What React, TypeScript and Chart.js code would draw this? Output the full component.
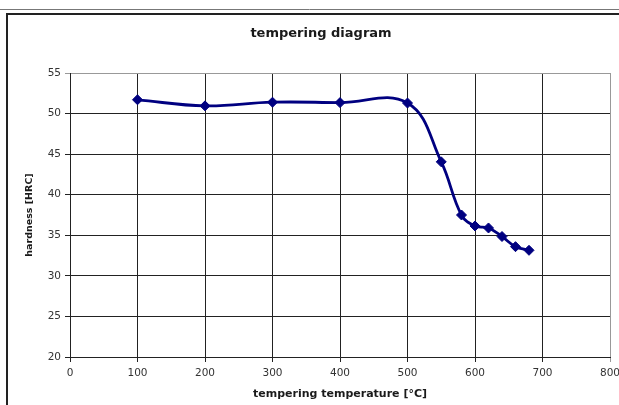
import React, { useEffect, useRef } from "react";
import { Chart, registerables } from "chart.js";

Chart.register(...registerables);

const temperatures = [100, 200, 300, 400, 500, 550, 580, 600, 620, 640, 660, 680];
const hardness = [51.7, 50.95, 51.4, 51.35, 51.3, 44.05, 37.5, 36.15, 35.9, 34.85, 33.6, 33.15];
const chartTitle = "tempering diagram";
const xTitle = "tempering temperature [°C]";
const yTitle = "hardness [HRC]";
const xMin = 0, xMax = 800, xStep = 100;
const yMin = 20, yMax = 55, yStep = 5;

const FONT = "'DejaVu Sans', 'Liberation Sans', Arial, sans-serif";

const framePlugin = {
  id: "frame",
  beforeDraw(chart: any) {
    const ctx = chart.ctx;
    ctx.save();
    ctx.fillStyle = "#ffffff";
    ctx.fillRect(0, 0, chart.width, chart.height);
    ctx.strokeStyle = "#777";
    ctx.lineWidth = 1;
    ctx.beginPath();
    ctx.moveTo(0, 9.5);
    ctx.lineTo(chart.width, 9.5);
    ctx.stroke();
    ctx.strokeStyle = "#222";
    ctx.lineWidth = 2;
    ctx.beginPath();
    ctx.moveTo(7, chart.height + 2);
    ctx.lineTo(7, 14);
    ctx.lineTo(chart.width + 2, 14);
    ctx.stroke();
    ctx.restore();
  },
  afterDraw(chart: any) {
    const ctx = chart.ctx;
    ctx.save();
    ctx.fillStyle = "#1a1a1a";
    ctx.font = "bold 13px " + FONT;
    ctx.textAlign = "center";
    ctx.textBaseline = "middle";
    ctx.fillText(chartTitle, 321, 34);
    ctx.restore();
  },
};

export default function App() {
  const ref = useRef<HTMLCanvasElement | null>(null);
  useEffect(() => {
    document.body.style.margin = "0";
    const points = temperatures.map((t, i) => ({ x: t, y: hardness[i] }));
    const chart = new Chart(ref.current as HTMLCanvasElement, {
      type: "line",
      data: {
        datasets: [
          {
            data: points,
            borderColor: "#000080",
            backgroundColor: "#000080",
            borderWidth: 2.8,
            tension: 0.4,
            pointStyle: "rectRot",
            pointRadius: 5,
            pointBorderWidth: 1,
            pointBackgroundColor: "#000080",
            pointBorderColor: "#000080",
          },
        ],
      },
      options: {
        animation: false,
        responsive: true,
        maintainAspectRatio: false,
        layout: { padding: { left: 0, top: 73, right: 9, bottom: 0 } },
        plugins: {
          legend: { display: false },
          title: { display: false },
          tooltip: { enabled: false },
        },
        scales: {
          x: {
            type: "linear",
            min: xMin,
            max: xMax,
            ticks: {
              stepSize: xStep,
              padding: 5,
              color: "#333",
              font: { family: FONT, size: 10.5 },
              maxRotation: 0,
            },
            grid: {
              color: (c: any) => (c.tick && c.tick.value === xMax ? "#999" : "#222"),
              lineWidth: 1,
              tickLength: 5,
            },
            border: { color: "#222", width: 1 },
            title: {
              display: true,
              text: xTitle,
              color: "#1a1a1a",
              font: { family: FONT, size: 11, weight: "bold" },
              padding: { top: 0, bottom: 4 },
            },
            afterFit: (s: any) => {
              s.height = 48;
              s.paddingRight = 0;
              s.paddingLeft = 0;
            },
          },
          y: {
            min: yMin,
            max: yMax,
            ticks: {
              stepSize: yStep,
              padding: 4,
              color: "#333",
              font: { family: FONT, size: 10.5 },
            },
            grid: {
              color: (c: any) => (c.tick && c.tick.value === yMax ? "#999" : "#222"),
              lineWidth: 1,
              tickLength: 5,
            },
            border: { color: "#222", width: 1 },
            title: {
              display: true,
              text: yTitle,
              color: "#1a1a1a",
              font: { family: FONT, size: 9.5, weight: "bold" },
              padding: { top: 24, bottom: 0 },
            },
            afterFit: (s: any) => {
              s.width = 70;
            },
          },
        },
      },
      plugins: [framePlugin],
    });
    return () => chart.destroy();
  }, []);
  return (
    <div style={{ position: "relative", width: 619, height: 405 }}>
      <canvas ref={ref} />
    </div>
  );
}
